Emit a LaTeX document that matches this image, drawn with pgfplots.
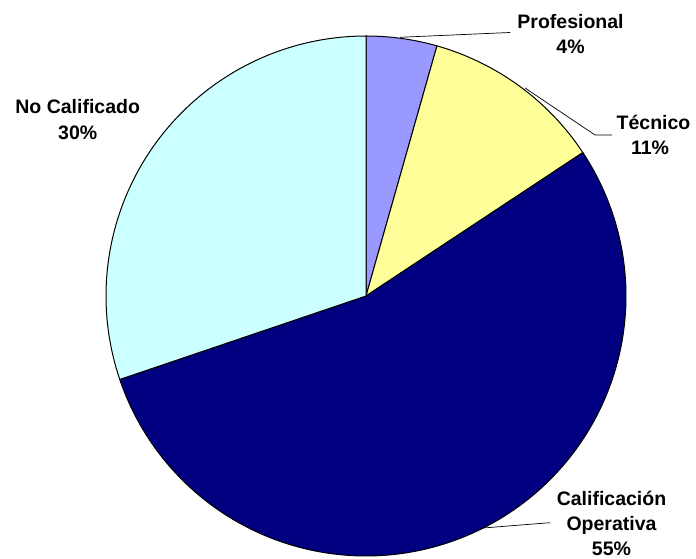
\documentclass[border=0pt]{standalone}
\usepackage{pgfplots}
\pgfplotsset{compat=1.18}
\usepackage{pgfplotstable}
\usepackage{fontspec}
\setmainfont{Liberation Sans}
\definecolor{cProf}{HTML}{9999FF}
\definecolor{cTec}{HTML}{FFFF99}
\definecolor{cOp}{HTML}{000080}
\definecolor{cNC}{HTML}{CCFFFF}
\tikzset{lbl/.style={font=\fontsize{19.5bp}{24bp}\selectfont\bfseries, inner sep=0pt, anchor=base}}
\pgfplotstableread{
idx value
0 4.4
1 11.3
2 54.1
3 30.2
}\piedata
\begin{document}
\begin{tikzpicture}
\pgfplotstablegetelem{0}{value}\of\piedata \pgfmathsetmacro{\vA}{\pgfplotsretval}
\pgfplotstablegetelem{1}{value}\of\piedata \pgfmathsetmacro{\vB}{\pgfplotsretval}
\pgfplotstablegetelem{2}{value}\of\piedata \pgfmathsetmacro{\vC}{\pgfplotsretval}
\pgfplotstablegetelem{3}{value}\of\piedata \pgfmathsetmacro{\vD}{\pgfplotsretval}
\pgfmathsetmacro{\tot}{\vA+\vB+\vC+\vD}
\pgfmathsetmacro{\aA}{\vA/\tot*360}
\pgfmathsetmacro{\aB}{(\vA+\vB)/\tot*360}
\pgfmathsetmacro{\aC}{(\vA+\vB+\vC)/\tot*360}
\begin{axis}[x=1bp,y=1bp,xmin=0,xmax=696,ymin=0,ymax=559,hide axis,clip=false,scale only axis]
\addplot[draw=none] coordinates {(0,0) (696,559)};
\addplot[fill=cProf,draw=black,line width=1bp,domain=0:\aA,samples=20] ({366+260*sin(x)},{263+260*cos(x)}) -- (axis cs:366,263) -- cycle;
\addplot[fill=cTec,draw=black,line width=1bp,domain=\aA:\aB,samples=40] ({366+260*sin(x)},{263+260*cos(x)}) -- (axis cs:366,263) -- cycle;
\addplot[fill=cOp,draw=black,line width=1bp,domain=\aB:\aC,samples=150] ({366+260*sin(x)},{263+260*cos(x)}) -- (axis cs:366,263) -- cycle;
\addplot[fill=cNC,draw=black,line width=1bp,domain=\aC:360,samples=80] ({366+260*sin(x)},{263+260*cos(x)}) -- (axis cs:366,263) -- cycle;
% leader lines
\draw[line width=0.7bp] (axis cs:400,521.7) -- (axis cs:510,526.5);
\draw[line width=0.7bp] (axis cs:525,471) -- (axis cs:595,424) -- (axis cs:612,424);
\draw[line width=0.7bp] (axis cs:483,31) -- (axis cs:550,36.3);
% labels
\node[lbl] at (axis cs:570.5,530.7) {Profesional};
\node[lbl] at (axis cs:570.5,505.7) {4\%};
\node[lbl] at (axis cs:653.5,429) {Técnico};
\node[lbl] at (axis cs:650,404) {11\%};
\node[lbl] at (axis cs:77.7,445) {No Calificado};
\node[lbl] at (axis cs:77.7,419.7) {30\%};
\node[lbl] at (axis cs:611.5,53.5) {Calificación};
\node[lbl] at (axis cs:611.5,28.5) {Operativa};
\node[lbl] at (axis cs:611.5,3.5) {55\%};
\end{axis}
\end{tikzpicture}
\end{document}
